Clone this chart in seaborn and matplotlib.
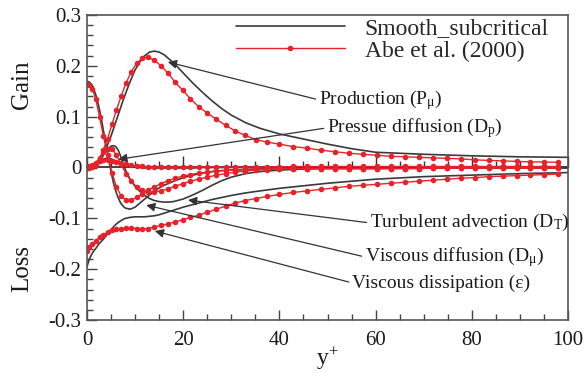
import matplotlib
matplotlib.use('Agg')
import matplotlib.pyplot as plt
import seaborn as sns
from matplotlib.ticker import MultipleLocator, FixedLocator, FixedFormatter

# ---------------- data ----------------
# present simulation (black, smooth lines)
yplus_black = [0, 0.5, 1, 1.5, 2, 2.5, 3, 3.5, 4, 4.5, 5, 5.5, 6, 6.5, 7, 7.5, 8,
               9, 10, 11, 12, 13, 14, 15, 16, 17, 18,
               20, 22, 24, 26, 28, 30,
               33, 36, 40, 45, 50, 55, 60,
               70, 80, 90, 100]
prod_black = [0, 0.0003, 0.001, 0.003, 0.006, 0.011, 0.018, 0.027, 0.038, 0.05, 0.062, 0.076, 0.09, 0.104, 0.118, 0.132, 0.145,
              0.17, 0.192, 0.208, 0.22, 0.227, 0.229, 0.227, 0.222, 0.214, 0.206,
              0.186, 0.166, 0.148, 0.131, 0.116, 0.103,
              0.088, 0.077, 0.066, 0.056, 0.046, 0.037, 0.03,
              0.026, 0.023, 0.021, 0.02]
dmu_black = [0.17, 0.168, 0.163, 0.152, 0.138, 0.118, 0.095, 0.068, 0.042, 0.016, -0.008, -0.03, -0.047, -0.06, -0.07, -0.076, -0.08,
             -0.082, -0.078, -0.07, -0.062, -0.054, -0.047, -0.04, -0.035, -0.031, -0.027,
             -0.02, -0.015, -0.011, -0.008, -0.006, -0.005,
             -0.004, -0.003, -0.002, -0.0015, -0.001, -0.001, -0.001,
             -0.0005, 0, 0, 0]
dt_black = [0, 0.0003, 0.001, 0.003, 0.007, 0.012, 0.019, 0.026, 0.033, 0.038, 0.042, 0.043, 0.041, 0.034, 0.022, 0.008, -0.005,
            -0.024, -0.037, -0.047, -0.055, -0.061, -0.065, -0.067, -0.068, -0.068, -0.067,
            -0.062, -0.054, -0.045, -0.035, -0.026, -0.019,
            -0.012, -0.008, -0.005, -0.003, -0.002, -0.002, -0.002,
            -0.001, -0.001, -0.001, -0.001]
dp_black = [0, 0.001, 0.003, 0.006, 0.009, 0.012, 0.015, 0.017, 0.018, 0.018, 0.017, 0.015, 0.013, 0.011, 0.009, 0.007, 0.005,
            0.003, 0.001, 0, -0.001, -0.001, -0.001, -0.001, -0.001, -0.001, -0.001,
            -0.001, -0.001, 0, 0, 0, 0,
            0, 0, 0, 0, 0, 0, 0,
            0, 0, 0, 0]
eps_black = [-0.195, -0.18, -0.17, -0.163, -0.157, -0.15, -0.145, -0.14, -0.134, -0.128, -0.122, -0.117, -0.112, -0.108, -0.105, -0.102, -0.1,
             -0.098, -0.097, -0.097, -0.097, -0.096, -0.095, -0.093, -0.09, -0.087, -0.084,
             -0.078, -0.073, -0.068, -0.063, -0.059, -0.055,
             -0.05, -0.046, -0.041, -0.036, -0.031, -0.027, -0.023,
             -0.018, -0.015, -0.012, -0.01]

# Abe et al. (2000) (red, dots)
yplus_red = [0, 0.5, 1.1, 1.8, 2.6, 3.4, 4.3, 5.2, 6.1, 7.1,
             8.1, 9.2, 10.3, 11.5, 12.7, 14.0, 15.4, 16.8, 18.3, 19.9,
             21.5, 23.2, 25.0, 26.9, 28.8, 30.8, 32.9, 35.1, 37.4, 40.0,
             42.9, 45.8, 48.7, 51.6, 54.5, 57.4, 60.3, 63.2, 66.1, 69.0,
             71.9, 74.8, 77.7, 80.6, 83.5, 86.4, 89.3, 92.2, 95.1, 98.0]
prod_red = [0, 0.0002, 0.001, 0.005, 0.017, 0.035, 0.057, 0.085, 0.113, 0.14,
            0.166, 0.188, 0.205, 0.215, 0.217, 0.211, 0.2, 0.186, 0.168, 0.152,
            0.135, 0.12, 0.107, 0.095, 0.083, 0.072, 0.063, 0.055, 0.05, 0.046,
            0.041, 0.038, 0.034, 0.031, 0.028, 0.026, 0.024, 0.022, 0.021, 0.02,
            0.019, 0.018, 0.017, 0.015, 0.014, 0.013, 0.012, 0.011, 0.011, 0.01]
dmu_red = [0.165, 0.163, 0.155, 0.135, 0.1, 0.062, 0.025, -0.01, -0.038, -0.056,
           -0.064, -0.064, -0.059, -0.052, -0.045, -0.038, -0.032, -0.026, -0.021, -0.017,
           -0.014, -0.011, -0.009, -0.007, -0.006, -0.005, -0.004, -0.003, -0.003, -0.002,
           -0.002, -0.002, -0.002, -0.002, -0.002, -0.002, -0.002, -0.002, -0.002, -0.002,
           -0.001, -0.001, -0.001, -0.001, -0.001, -0.001, -0.001, -0.001, -0.001, -0.001]
dt_red = [0, 0, 0.002, 0.008, 0.019, 0.03, 0.037, 0.037, 0.025, 0.006,
          -0.012, -0.027, -0.038, -0.045, -0.048, -0.048, -0.046, -0.042, -0.037, -0.032,
          -0.027, -0.023, -0.019, -0.015, -0.012, -0.009, -0.007, -0.005, -0.004, -0.003,
          -0.002, -0.002, -0.002, -0.002, -0.002, -0.002, -0.002, -0.002, -0.002, -0.002,
          -0.001, -0.001, -0.001, -0.001, -0.001, -0.001, -0.001, -0.001, -0.001, -0.001]
dp_red = [0, 0.002, 0.005, 0.009, 0.013, 0.015, 0.015, 0.013, 0.011, 0.008,
          0.006, 0.004, 0.003, 0.002, 0.001, 0.001, 0.001, 0.001, 0.001, 0.001,
          0.001, 0.001, 0.001, 0.001, 0.001, 0.001, 0.001, 0.001, 0.001, 0.001,
          0.002, 0.002, 0.002, 0.002, 0.002, 0.002, 0.002, 0.002, 0.002, 0.002,
          0.002, 0.002, 0.002, 0.002, 0.002, 0.002, 0.002, 0.002, 0.002, 0.002]
eps_red = [-0.164, -0.157, -0.15, -0.144, -0.137, -0.132, -0.127, -0.123, -0.121, -0.12,
           -0.119, -0.119, -0.12, -0.121, -0.12, -0.117, -0.114, -0.111, -0.107, -0.103,
           -0.098, -0.094, -0.088, -0.082, -0.076, -0.07, -0.065, -0.061, -0.057, -0.053,
           -0.049, -0.046, -0.043, -0.04, -0.037, -0.035, -0.033, -0.031, -0.029, -0.027,
           -0.025, -0.023, -0.021, -0.02, -0.018, -0.017, -0.016, -0.015, -0.014, -0.013]

series_names = ['Smooth_subcritical', 'Abe et al. (2000)']
x_ticks = [0, 20, 40, 60, 80, 100]
x_ticklabels = ['0', '20', '40', '60', '80', '100']
y_ticks = [-0.3, -0.2, -0.1, 0, 0.1, 0.2, 0.3]
y_ticklabels = ['-0.3', '-0.2', '-0.1', '0', '0.1', '0.2', '0.3']

annotations = [
    ('Production (P$_\\mathrm{\\mu}$)', (16.8, 0.2075), (48.2, 0.133)),
    ('Pressue diffusion (D$_\\mathrm{p}$)', (6.5, 0.016), (49.9, 0.078)),
    ('Turbulent advection (D$_\\mathrm{T}$)', (21.0, -0.064), (58.8, -0.109)),
    ('Viscous diffusion (D$_\\mathrm{\\mu}$)', (12.3, -0.074), (57.8, -0.176)),
    ('Viscous dissipation (\u03b5)', (14.1, -0.125), (55.1, -0.227)),
]

# ---------------- style ----------------
sns.set_style('ticks')
plt.rcParams['font.family'] = ['Liberation Serif', 'DejaVu Serif']
plt.rcParams['mathtext.fontset'] = 'custom'
plt.rcParams['mathtext.rm'] = 'Liberation Serif'
plt.rcParams['mathtext.it'] = 'Liberation Serif:italic'
plt.rcParams['axes.unicode_minus'] = False

BLACK = '#3a3a3a'
RED = '#e8222a'
TXT = '#1a1a1a'

fig = plt.figure(figsize=(5.87, 3.73), dpi=100)
ax = fig.add_axes([87 / 587, 53 / 373, 481 / 587, 305 / 373])

black_sets = [prod_black, dmu_black, dt_black, dp_black, eps_black]
red_sets = [prod_red, dmu_red, dt_red, dp_red, eps_red]

for i, ys in enumerate(black_sets):
    sns.lineplot(x=yplus_black, y=ys, ax=ax, color=BLACK, lw=1.2, sort=False,
                 estimator=None, label=series_names[0] if i == 0 else None, legend=False)
for i, ys in enumerate(red_sets):
    sns.lineplot(x=yplus_red, y=ys, ax=ax, color=RED, lw=1.0, marker='o', markersize=4.0,
                 markeredgewidth=0, markerfacecolor=RED, sort=False, estimator=None,
                 label=series_names[1] if i == 0 else None, legend=False)

ax.set_xlim(0, 100)
ax.set_ylim(-0.3, 0.3)
ax.xaxis.set_major_locator(FixedLocator(x_ticks))
ax.xaxis.set_major_formatter(FixedFormatter(x_ticklabels))
ax.xaxis.set_minor_locator(MultipleLocator(5))
ax.yaxis.set_major_locator(FixedLocator(y_ticks))
ax.yaxis.set_major_formatter(FixedFormatter(y_ticklabels))
ax.yaxis.set_minor_locator(MultipleLocator(0.02))
ax.tick_params(which='both', direction='in', top=False, right=False,
               color='#444', labelcolor=TXT, labelsize=15, width=1.0)
ax.tick_params(which='major', length=7)
ax.tick_params(which='minor', length=4)
ax.tick_params(axis='y', which='major', pad=4)
ax.tick_params(axis='x', which='major', pad=8)
for s in ax.spines.values():
    s.set_color('#555')
    s.set_linewidth(1.2)
ax.set_ylabel('')

# zero axis with upward ticks
sec = ax.secondary_xaxis(0.5)
sec.xaxis.set_major_locator(MultipleLocator(20))
sec.xaxis.set_minor_locator(MultipleLocator(5))
sec.tick_params(which='both', direction='out', labeltop=False, labelbottom=False,
                color='#333', width=1.0)
sec.tick_params(which='major', length=8)
sec.tick_params(which='minor', length=4.5)
for s in sec.spines.values():
    s.set_color('#333')
    s.set_linewidth(1.3)

ax.set_xlabel('y$^{+}$', fontsize=17, color=TXT, labelpad=-3)

fig.text(22 / 587, 1 - 85 / 373, 'Gain', rotation=90, fontsize=18, color=TXT,
         ha='center', va='center')
fig.text(22 / 587, 1 - 268 / 373, 'Loss', rotation=90, fontsize=18, color=TXT,
         ha='center', va='center')

for txt, tip, pos in annotations:
    ax.annotate(txt, xy=tip, xytext=pos, ha='left', va='center', fontsize=14, color=TXT,
                arrowprops=dict(arrowstyle='-|>', color='#333', lw=0.9, shrinkA=0, shrinkB=0,
                                mutation_scale=13, relpos=(0, 0.5)))

ax.legend(loc='upper left', bbox_to_anchor=(0.305, 1.0), frameon=False, fontsize=17,
          handlelength=4.6, handletextpad=0.85, labelspacing=0.05, borderpad=0.1,
          borderaxespad=0, numpoints=1)

fig.savefig('out.png', dpi=100)
